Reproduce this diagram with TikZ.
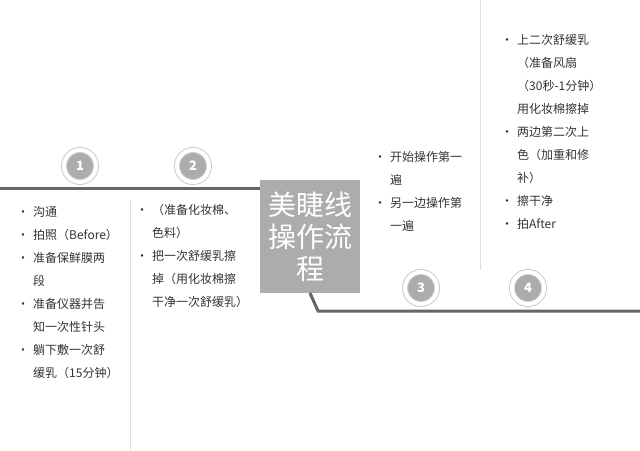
\documentclass[tikz,border=0pt]{standalone}
\usepackage{fontspec}
\setmainfont{Noto Sans CJK SC}
\newcommand{\bl}{\makebox[16pt][l]{•}}
\newcommand{\ind}{\hspace*{16pt}}
\begin{document}
\begin{tikzpicture}[x=1pt,y=-1pt,
  num/.style={circle,draw=white!80!black,line width=1pt,fill=gray!65,minimum size=32pt,inner sep=0pt,text=white,font=\bfseries\fontsize{13}{13}\selectfont,double=white,double distance=4pt},
  col/.style={anchor=north west,align=left,font=\fontsize{12}{23}\selectfont,text=black!80,inner sep=0pt},
  rule/.style={draw=gray!80!black,line width=3pt},
  sep/.style={draw=gray!25,line width=0.8pt}]
\useasboundingbox (0,0) rectangle (640,450);
\draw[sep] (130,200) -- (130,450);
\draw[sep] (480,0) -- (480,270);
\draw[rule] (0,188) -- (262,188);
\node[fill=gray!65,minimum width=100pt,minimum height=113pt,inner sep=0pt,anchor=north west] (box) at (260,180) {};
\node[text=white,font=\fontsize{28}{32}\selectfont,align=center] (title) at (box.center) {美睫线\\操作流\\程};
\coordinate (b1) at (310,293);
\coordinate (b2) at (318,311);
\coordinate (b3) at (640,311);
\draw[rule] (b1) -- (b2) -- (b3);
\node[num] (n1) at (80,166) {1};
\node[num] (n2) at (193,166) {2};
\node[num] (n3) at (421,288) {3};
\node[num] (n4) at (528,288) {4};
\node[col] (c1) at (17,206) {\bl 沟通\\\bl 拍照（Before）\\\bl 准备保鲜膜两\\\ind 段\\\bl 准备仪器并告\\\ind 知一次性针头\\\bl 躺下敷一次舒\\\ind 缓乳（15分钟）};
\node[col] (c2) at (136,204) {\bl （准备化妆棉、\\\ind 色料）\\\bl 把一次舒缓乳擦\\\ind 掉（用化妆棉擦\\\ind 干净一次舒缓乳）};
\node[col] (c3) at (374,151) {\bl 开始操作第一\\\ind 遍\\\bl 另一边操作第\\\ind 一遍};
\node[col] (c4) at (501,34) {\bl 上二次舒缓乳\\\ind （准备风扇\\\ind （30秒-1分钟）\\\ind 用化妆棉擦掉\\\bl 两边第二次上\\\ind 色（加重和修\\\ind 补）\\\bl 擦干净\\\bl 拍After};
\end{tikzpicture}
\end{document}
